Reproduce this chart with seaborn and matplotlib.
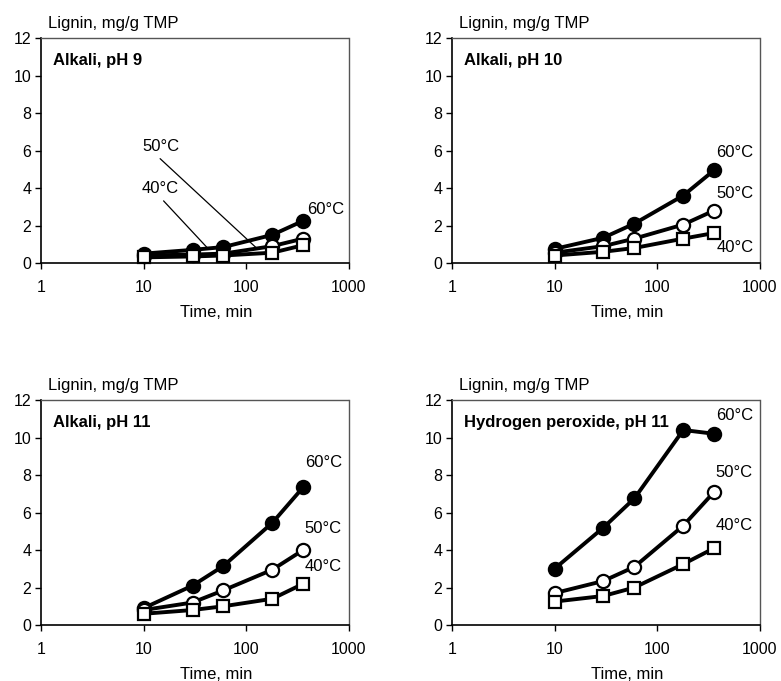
# Lignin release from TMP: alkali at pH 9/10/11 and hydrogen peroxide at pH 11

import pandas as pd
import matplotlib.pyplot as plt
import seaborn as sns

# Treatment times (min)
time_min = [10, 30, 60, 180, 360]

# Lignin, mg/g TMP
ph9_60 = [0.5, 0.7, 0.85, 1.5, 2.25]
ph9_50 = [0.4, 0.45, 0.5, 0.9, 1.3]
ph9_40 = [0.3, 0.35, 0.4, 0.55, 0.95]

ph10_60 = [0.75, 1.35, 2.1, 3.6, 4.95]
ph10_50 = [0.55, 0.9, 1.3, 2.05, 2.8]
ph10_40 = [0.4, 0.6, 0.8, 1.3, 1.6]

ph11_60 = [0.9, 2.1, 3.15, 5.45, 7.35]
ph11_50 = [0.8, 1.2, 1.85, 2.95, 4.0]
ph11_40 = [0.6, 0.8, 1.0, 1.4, 2.2]

hp_60 = [3.0, 5.2, 6.75, 10.4, 10.2]
hp_50 = [1.7, 2.35, 3.1, 5.3, 7.1]
hp_40 = [1.25, 1.55, 2.0, 3.25, 4.1]

panel_titles = ['Alkali, pH 9', 'Alkali, pH 10', 'Alkali, pH 11',
                'Hydrogen peroxide, pH 11']
temps = ['60°C', '50°C', '40°C']
y_ticks = [0, 2, 4, 6, 8, 10, 12]
x_ticks = [1, 10, 100, 1000]

panels = [[ph9_60, ph9_50, ph9_40],
          [ph10_60, ph10_50, ph10_40],
          [ph11_60, ph11_50, ph11_40],
          [hp_60, hp_50, hp_40]]

# marker style per temperature
styles = {'60°C': dict(marker = 'o', markerfacecolor = 'black', markersize = 9.5),
          '50°C': dict(marker = 'o', markerfacecolor = 'white', markersize = 9.5),
          '40°C': dict(marker = 's', markerfacecolor = 'white', markersize = 9)}

# label positions (axes fraction) for the temperature tags
label_pos = [None,
             {'60°C': (0.86, 0.493), '50°C': (0.86, 0.311), '40°C': (0.86, 0.067)},
             {'60°C': (0.857, 0.724), '50°C': (0.857, 0.431), '40°C': (0.857, 0.262)},
             {'60°C': (0.857, 0.933), '50°C': (0.857, 0.676), '40°C': (0.857, 0.444)}]

sns.set_theme(style = 'ticks')
plt.rcParams['font.family'] = ['Liberation Sans', 'DejaVu Sans']
plt.rcParams['text.color'] = 'black'

fs = 12

fig = plt.figure(figsize = (7.81, 6.81), dpi = 100)

ax_rects = [[0.0525, 0.6138, 0.394, 0.3304],
            [0.5787, 0.6138, 0.394, 0.3304],
            [0.0525, 0.0822, 0.394, 0.3304],
            [0.5787, 0.0822, 0.394, 0.3304]]

for i, rect in enumerate(ax_rects):
    ax = fig.add_axes(rect)

    for temp, vals in zip(temps, panels[i]):
        df = pd.DataFrame({'time': time_min, 'lignin': vals})
        sns.lineplot(ax = ax,
                     data = df,
                     x = 'time',
                     y = 'lignin',
                     color = 'black',
                     linewidth = 2.8,
                     markeredgecolor = 'black',
                     markeredgewidth = 1.6,
                     clip_on = False,
                     **styles[temp])

    ax.set_xscale('log')
    ax.set(xlim = (1, 1000), ylim = (0, 12), xlabel = '', ylabel = '')
    ax.set_xticks(x_ticks)
    ax.set_xticklabels(['1', '10', '100', '1000'])
    ax.minorticks_off()
    ax.set_yticks(y_ticks)
    ax.tick_params(axis = 'both', labelsize = 11.5, color = 'black', labelcolor = 'black',
                   direction = 'out', length = 4, width = 1)
    ax.tick_params(axis = 'x', pad = 8)
    ax.tick_params(axis = 'y', pad = 3)

    for side in ['left', 'bottom']:
        ax.spines[side].set_color('black')
        ax.spines[side].set_linewidth(1.2)
    for side in ['top', 'right']:
        ax.spines[side].set_visible(True)
        ax.spines[side].set_color('#555555')
        ax.spines[side].set_linewidth(1.0)
        ax.spines[side].set_linestyle((0, (1, 1)))

    ax.text(0.022, 1.03, 'Lignin, mg/g TMP', transform = ax.transAxes,
            fontsize = fs, va = 'bottom', ha = 'left')
    ax.text(0.57, -0.22, 'Time, min', transform = ax.transAxes,
            fontsize = fs, va = 'center', ha = 'center')
    ax.text(0.04, 0.898, panel_titles[i], transform = ax.transAxes,
            fontsize = fs, fontweight = 'bold', va = 'center', ha = 'left')

    if i == 0:
        ax.text(0.864, 0.236, '60°C', transform = ax.transAxes,
                fontsize = fs, va = 'center', ha = 'left')
        ax.annotate('50°C', xy = (129, 0.75), xycoords = 'data',
                    xytext = (0.328, 0.52), textcoords = 'axes fraction',
                    fontsize = fs, va = 'center', ha = 'left',
                    arrowprops = dict(arrowstyle = '-', color = 'black', lw = 0.9,
                                      relpos = (0.34, 0), shrinkA = 2, shrinkB = 0))
        ax.annotate('40°C', xy = (42, 0.8), xycoords = 'data',
                    xytext = (0.328, 0.333), textcoords = 'axes fraction',
                    fontsize = fs, va = 'center', ha = 'left',
                    arrowprops = dict(arrowstyle = '-', color = 'black', lw = 0.9,
                                      relpos = (0.45, 0), shrinkA = 2, shrinkB = 0))
    else:
        for temp, pos in label_pos[i].items():
            ax.text(pos[0], pos[1], temp, transform = ax.transAxes,
                    fontsize = fs, va = 'center', ha = 'left')

fig.savefig('out.png', dpi = 100)
plt.close()
